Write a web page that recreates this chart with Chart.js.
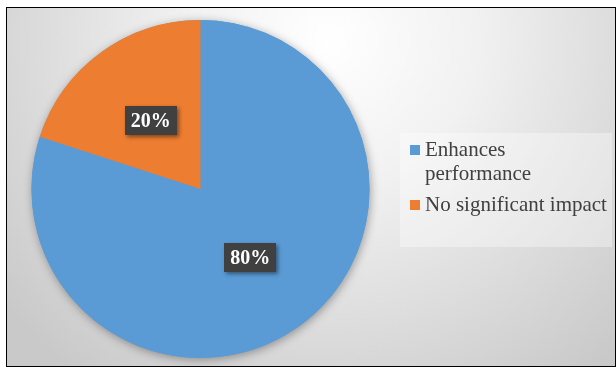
<!DOCTYPE html>
<html>
<head>
<meta charset="utf-8">
<script src="https://cdn.jsdelivr.net/npm/chart.js@4.4.1/dist/chart.umd.min.js"></script>
<style>
    html, body { margin: 0; padding: 0; background: #fff; }
    #wrap { width: 616px; height: 367px; }
</style>
</head>
<body>
<div id="wrap"><canvas id="impactChart" width="616" height="367"></canvas></div>
<script>
const categories = ['Enhances performance', 'No significant impact'];
const shares = [80, 20];
const sliceColors = ['#5B9BD5', '#ED7D31'];

const serif = '"Liberation Serif", "Times New Roman", serif';

// Frame + soft radial backdrop
const backdropPlugin = {
    id: 'backdrop',
    beforeDraw(chart) {
        const ctx = chart.ctx;
        const x0 = 6.5, y0 = 7.5, x1 = 615.5, y1 = 366.5;
        ctx.save();
        ctx.fillStyle = '#fff';
        ctx.fillRect(0, 0, chart.width, chart.height);
        const g = ctx.createRadialGradient(330, 40, 0, 330, 40, 420);
        g.addColorStop(0, '#ffffff');
        g.addColorStop(0.35, '#f1f1f1');
        g.addColorStop(1, '#c9c9c9');
        ctx.fillStyle = g;
        ctx.fillRect(x0, y0, x1 - x0, y1 - y0);
        ctx.strokeStyle = '#000';
        ctx.lineWidth = 1;
        ctx.strokeRect(x0, y0, x1 - x0, y1 - y0);
        ctx.restore();
    }
};

// Shadow under the whole pie
const pieShadowPlugin = {
    id: 'pieShadow',
    beforeDatasetsDraw(chart) {
        const arc = chart.getDatasetMeta(0).data[0];
        if (!arc) return;
        const ctx = chart.ctx;
        ctx.save();
        ctx.shadowColor = 'rgba(0, 0, 0, 0.35)';
        ctx.shadowBlur = 10;
        ctx.shadowOffsetX = 1;
        ctx.shadowOffsetY = 2;
        ctx.fillStyle = sliceColors[0];
        ctx.beginPath();
        ctx.arc(arc.x, arc.y, arc.outerRadius, 0, Math.PI * 2);
        ctx.fill();
        ctx.restore();
    }
};

// Percent labels in dark boxes
const sliceLabelPlugin = {
    id: 'sliceLabels',
    afterDatasetsDraw(chart) {
        const ctx = chart.ctx;
        const meta = chart.getDatasetMeta(0);
        const total = shares.reduce((a, b) => a + b, 0);
        ctx.save();
        ctx.font = 'bold 20px ' + serif;
        ctx.textAlign = 'center';
        ctx.textBaseline = 'middle';
        meta.data.forEach((arc, i) => {
            const pos = arc.getCenterPoint();
            const text = Math.round(shares[i] / total * 100) + '%';
            const w = 52, h = 29;
            ctx.save();
            ctx.shadowColor = 'rgba(0, 0, 0, 0.45)';
            ctx.shadowBlur = 4;
            ctx.shadowOffsetX = 2;
            ctx.shadowOffsetY = 2;
            ctx.fillStyle = '#404040';
            ctx.fillRect(Math.round(pos.x - w / 2), Math.round(pos.y - h / 2), w, h);
            ctx.restore();
            ctx.fillStyle = '#ffffff';
            ctx.fillText(text, pos.x, pos.y + 1);
        });
        ctx.restore();
    }
};

// Legend panel on the right
const sideLegendPlugin = {
    id: 'sideLegend',
    afterDraw(chart) {
        const ctx = chart.ctx;
        const box = { x: 400, y: 133, w: 212, h: 114 };
        const textX = 425, maxW = 184, lineH = 24;
        ctx.save();
        ctx.fillStyle = 'rgba(255, 255, 255, 0.35)';
        ctx.fillRect(box.x, box.y, box.w, box.h);

        ctx.font = '21px ' + serif;
        ctx.textBaseline = 'alphabetic';
        let baseline = 156;
        chart.data.labels.forEach((label, i) => {
            // wrap long labels
            const words = label.split(' ');
            const lines = [];
            let cur = '';
            words.forEach(word => {
                const test = cur ? cur + ' ' + word : word;
                if (ctx.measureText(test).width > maxW && cur) {
                    lines.push(cur);
                    cur = word;
                } else {
                    cur = test;
                }
            });
            lines.push(cur);

            ctx.fillStyle = sliceColors[i];
            ctx.fillRect(410, baseline - 11, 10, 10);
            ctx.fillStyle = '#404040';
            lines.forEach((line, j) => {
                ctx.fillText(line, textX, baseline + j * lineH);
            });
            baseline += lines.length * lineH + 7;
        });
        ctx.restore();
    }
};

new Chart(document.getElementById('impactChart'), {
    type: 'pie',
    data: {
        labels: categories,
        datasets: [{
            data: shares,
            backgroundColor: sliceColors,
            borderWidth: 0
        }]
    },
    options: {
        responsive: false,
        animation: false,
        layout: {
            padding: { top: 20, bottom: 9, left: 31, right: 246 }
        },
        plugins: {
            legend: { display: false },
            tooltip: { enabled: false }
        }
    },
    plugins: [backdropPlugin, pieShadowPlugin, sliceLabelPlugin, sideLegendPlugin]
});
</script>
</body>
</html>
